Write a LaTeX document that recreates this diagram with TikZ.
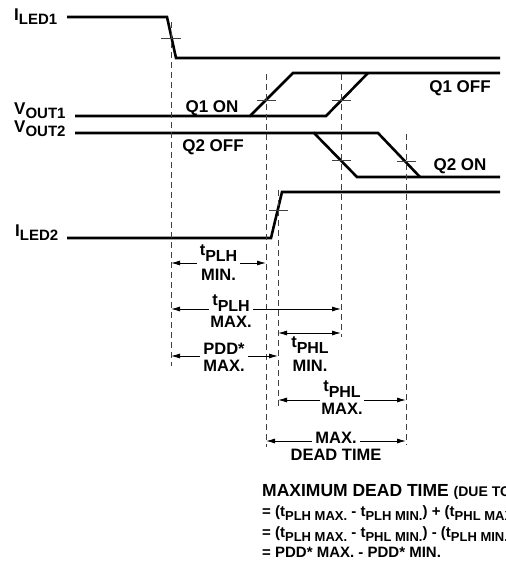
\documentclass[tikz,border=0pt]{standalone}
\usepackage{fontspec}
\setmainfont{Liberation Sans}
\usetikzlibrary{positioning,arrows.meta}

\newcommand{\sig}[2]{#1\raisebox{-4pt}{\fontsize{15}{15}\selectfont #2}}
\newcommand{\tsub}[1]{t\raisebox{-6.5pt}{\fontsize{16}{16}\selectfont #1}}
\newcommand{\fsub}[1]{t\raisebox{-4pt}{\fontsize{13}{13}\selectfont #1}}

\begin{document}
\begin{tikzpicture}[x=1pt, y=-1pt,
    wave/.style={line width=2.6pt},
    guide/.style={black!75, line width=0.9pt, dash pattern=on 6pt off 4pt},
    tick/.style={black!75, line width=0.8pt},
    dim/.style={-{Latex[length=9pt,width=5pt]}, line width=0.9pt},
    dimboth/.style={{Latex[length=9pt,width=5pt]}-{Latex[length=9pt,width=5pt]}, line width=0.9pt},
    lab/.style={font=\fontsize{17}{17}\bfseries\selectfont, inner sep=0pt},
    dlab/.style={font=\fontsize{16.5}{16.5}\bfseries\selectfont, inner xsep=3pt, inner ysep=0pt, anchor=base},
    note/.style={font=\fontsize{15}{15}\bfseries\selectfont, inner sep=0pt, anchor=base west}]
    \useasboundingbox (0,0) rectangle (505,569);
    \clip (0,0) rectangle (505,569);

    % Signals
    \node (iled1) [lab, anchor=base west] at (14,21) {\sig{I}{LED1}};
    \draw[wave] (67,17) -- (167,17) -- (176,58) -- (500,58);

    \node (vout1) [lab, anchor=base west] at (14,115) {\sig{V}{OUT1}};
    \draw[wave] (75,116) -- (250,116) -- (293,73) -- (500,73);
    \draw[wave] (250,116) -- (326,116) -- (368,73);

    \node (vout2) [lab, anchor=base west] at (14,133) {\sig{V}{OUT2}};
    \draw[wave] (75,133) -- (314,133) -- (357,177) -- (500,177);
    \draw[wave] (314,133) -- (378,133) -- (420,177);

    \node (iled2) [lab, anchor=base west] at (15,236) {\sig{I}{LED2}};
    \draw[wave] (67,238) -- (271,238) -- (282,192) -- (500,192);

    % Switch states
    \node (q1on) [lab, anchor=base] at (212,113) {Q1 ON};
    \node (q1off) [lab, anchor=base] at (460,93) {Q1 OFF};
    \node (q2off) [lab, anchor=base] at (213,152) {Q2 OFF};
    \node (q2on) [lab, anchor=base] at (460,171) {Q2 ON};

    % Reference lines and 50% marks
    \draw[guide] (171,22) -- (171,366);
    \draw[guide] (266,74) -- (266,447);
    \draw[guide] (278,190) -- (278,408);
    \draw[guide] (341,74) -- (341,337);
    \draw[guide] (406,134) -- (406,445);
    \draw[tick] (161,38) -- (181,38);
    \draw[tick] (257,100) -- (276,100);
    \draw[tick] (332,100) -- (351,100);
    \draw[tick] (332,160) -- (351,160);
    \draw[tick] (397,161) -- (416,161);
    \draw[tick] (269,210) -- (288,210);

    % t_PLH min
    \coordinate (plhminL) at (171,263);
    \coordinate (plhminR) at (266,263);
    \node (plhmin) [dlab] at (218.5,255) {\tsub{PLH}};
    \node (plhminb) [dlab] at (218.5,280) {MIN.};
    \draw[dim] (plhmin.west |- plhminL) -- (plhminL);
    \draw[dim] (plhmin.east |- plhminR) -- (plhminR);

    % t_PLH max
    \coordinate (plhmaxL) at (171,309);
    \coordinate (plhmaxR) at (341,309);
    \node (plhmax) [dlab] at (231,305) {\tsub{PLH}};
    \node (plhmaxb) [dlab] at (231,327) {MAX.};
    \draw[dim] (plhmax.west |- plhmaxL) -- (plhmaxL);
    \draw[dim] (plhmax.east |- plhmaxR) -- (plhmaxR);

    % PDD* max
    \coordinate (pddL) at (171,356);
    \coordinate (pddR) at (278,356);
    \node (pdd) [dlab] at (224,354) {PDD*};
    \node (pddb) [dlab] at (224,371) {MAX.};
    \draw[dim] (pdd.west |- pddL) -- (pddL);
    \draw[dim] (pdd.east |- pddR) -- (pddR);

    % t_PHL min
    \coordinate (phlminL) at (278,333);
    \coordinate (phlminR) at (341,333);
    \node (phlmin) [dlab] at (310,347) {\tsub{PHL}};
    \node (phlminb) [dlab] at (310,371) {MIN.};
    \draw[dimboth] (phlminL) -- (phlminR);

    % t_PHL max
    \coordinate (phlmaxL) at (278,400);
    \coordinate (phlmaxR) at (406,400);
    \node (phlmax) [dlab] at (342,391) {\tsub{PHL}};
    \node (phlmaxb) [dlab] at (342,414) {MAX.};
    \draw[dim] (phlmax.west |- phlmaxL) -- (phlmaxL);
    \draw[dim] (phlmax.east |- phlmaxR) -- (phlmaxR);

    % Dead time
    \coordinate (deadL) at (266,441);
    \coordinate (deadR) at (406,441);
    \node (dead) [dlab] at (336,443) {MAX.};
    \node (deadb) [dlab] at (336,460) {DEAD TIME};
    \draw[dim] (dead.west |- deadL) -- (deadL);
    \draw[dim] (dead.east |- deadR) -- (deadR);

    % Formula
    \node (title) [note, font=\fontsize{17.5}{17.5}\bfseries\selectfont] at (262,496)
        {MAXIMUM DEAD TIME {\fontsize{14}{14}\selectfont (DUE TO}};
    \node (eq1) [note] at (262,516) {= (\fsub{PLH MAX.} - \fsub{PLH MIN.}) + (\fsub{PHL MAX.}};
    \node (eq2) [note] at (262,537) {= (\fsub{PLH MAX.} - \fsub{PHL MIN.}) - (\fsub{PLH MIN.}};
    \node (eq3) [note] at (262,557) {= PDD* MAX. - PDD* MIN.};
\end{tikzpicture}
\end{document}
